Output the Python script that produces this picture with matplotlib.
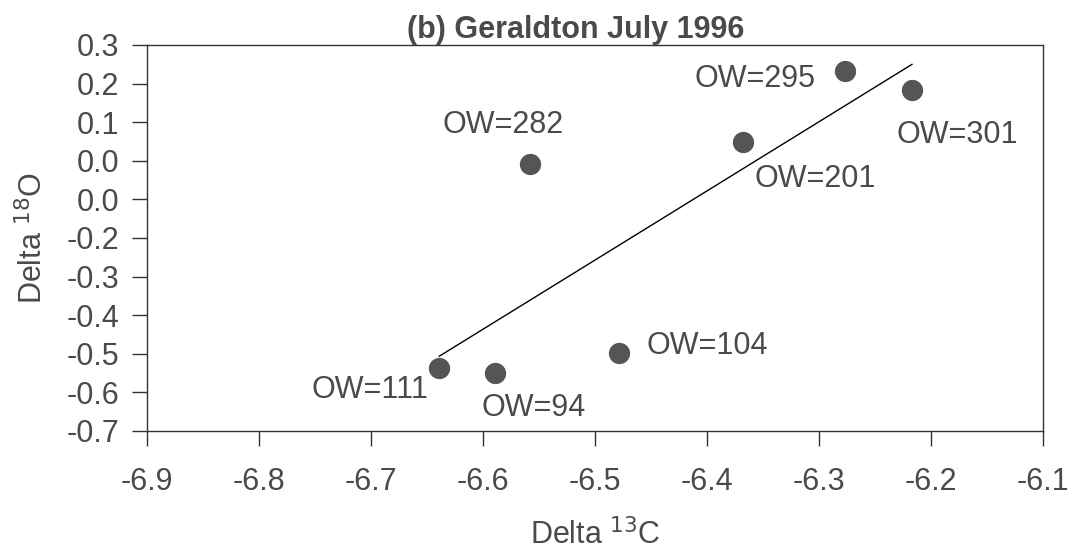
import matplotlib
matplotlib.use("Agg")
import matplotlib.pyplot as plt
import numpy as np

plt.rcParams['font.family'] = ['Liberation Sans', 'DejaVu Sans']

# Data
labels = ["OW=111", "OW=94", "OW=104", "OW=282", "OW=201", "OW=295", "OW=301"]
delta13C = [-6.639, -6.589, -6.479, -6.558, -6.368, -6.277, -6.217]
delta18O = [-0.537, -0.550, -0.499, -0.009, 0.048, 0.232, 0.183]

xticks = [-6.9, -6.8, -6.7, -6.6, -6.5, -6.4, -6.3, -6.2, -6.1]
yticks = [0.3, 0.2, 0.1, 0.0, -0.1, -0.2, -0.3, -0.4, -0.5, -0.6, -0.7]
ytick_labels = ["0.3", "0.2", "0.1", "0.0", "0.0", "-0.2", "-0.3", "-0.4", "-0.5", "-0.6", "-0.7"]

# label offsets in pixels (dx, dy)
offsets = [(-69, -18), (38, -31), (89, 11), (-27, 43), (72, -33), (-90, -4), (45, -41)]

TXT = "#4a4a4a"
FS = 22
fig = plt.figure(figsize=(10.72, 5.54), dpi=100)
ax = fig.add_axes([147 / 1072, 1 - 431 / 554, (1043 - 147) / 1072, (431 - 45) / 554])

ax.scatter(delta13C, delta18O, s=235, color="#555555", zorder=3, linewidths=0)

x = np.array(delta13C)
y = np.array(delta18O)
m, b = np.polyfit(x, y, 1)
xl = np.array([x.min(), x.max()])
ax.plot(xl, m * xl + b, color="black", lw=1.0, zorder=2)

for lab, xx, yy, (dx, dy) in zip(labels, delta13C, delta18O, offsets):
    ax.annotate(lab, (xx, yy), xytext=(dx, dy), textcoords="offset pixels",
                ha="center", va="center_baseline", fontsize=FS, color=TXT)

ax.set_xlim(-6.9, -6.1)
ax.set_ylim(-0.7, 0.3)
ax.set_xticks(xticks)
ax.set_xticklabels([f"{t:.1f}" for t in xticks])
ax.set_yticks(yticks)
ax.set_yticklabels(ytick_labels)
ax.tick_params(axis="both", direction="out", length=11, width=1, colors="#333333",
               labelsize=FS, labelcolor=TXT)
ax.tick_params(axis="x", pad=15)
ax.tick_params(axis="y", pad=9)
for s in ax.spines.values():
    s.set_color("#333333")
    s.set_linewidth(1)

ax.set_xlabel("Delta $^{13}$C", fontsize=FS, color=TXT, labelpad=16)
ax.set_ylabel("Delta $^{18}$O", fontsize=FS, color=TXT, labelpad=12)
ax.set_title("(b) Geraldton July 1996", fontsize=FS, fontweight="bold", color=TXT,
             pad=5, x=0.479)

fig.savefig("out.png", dpi=100)
